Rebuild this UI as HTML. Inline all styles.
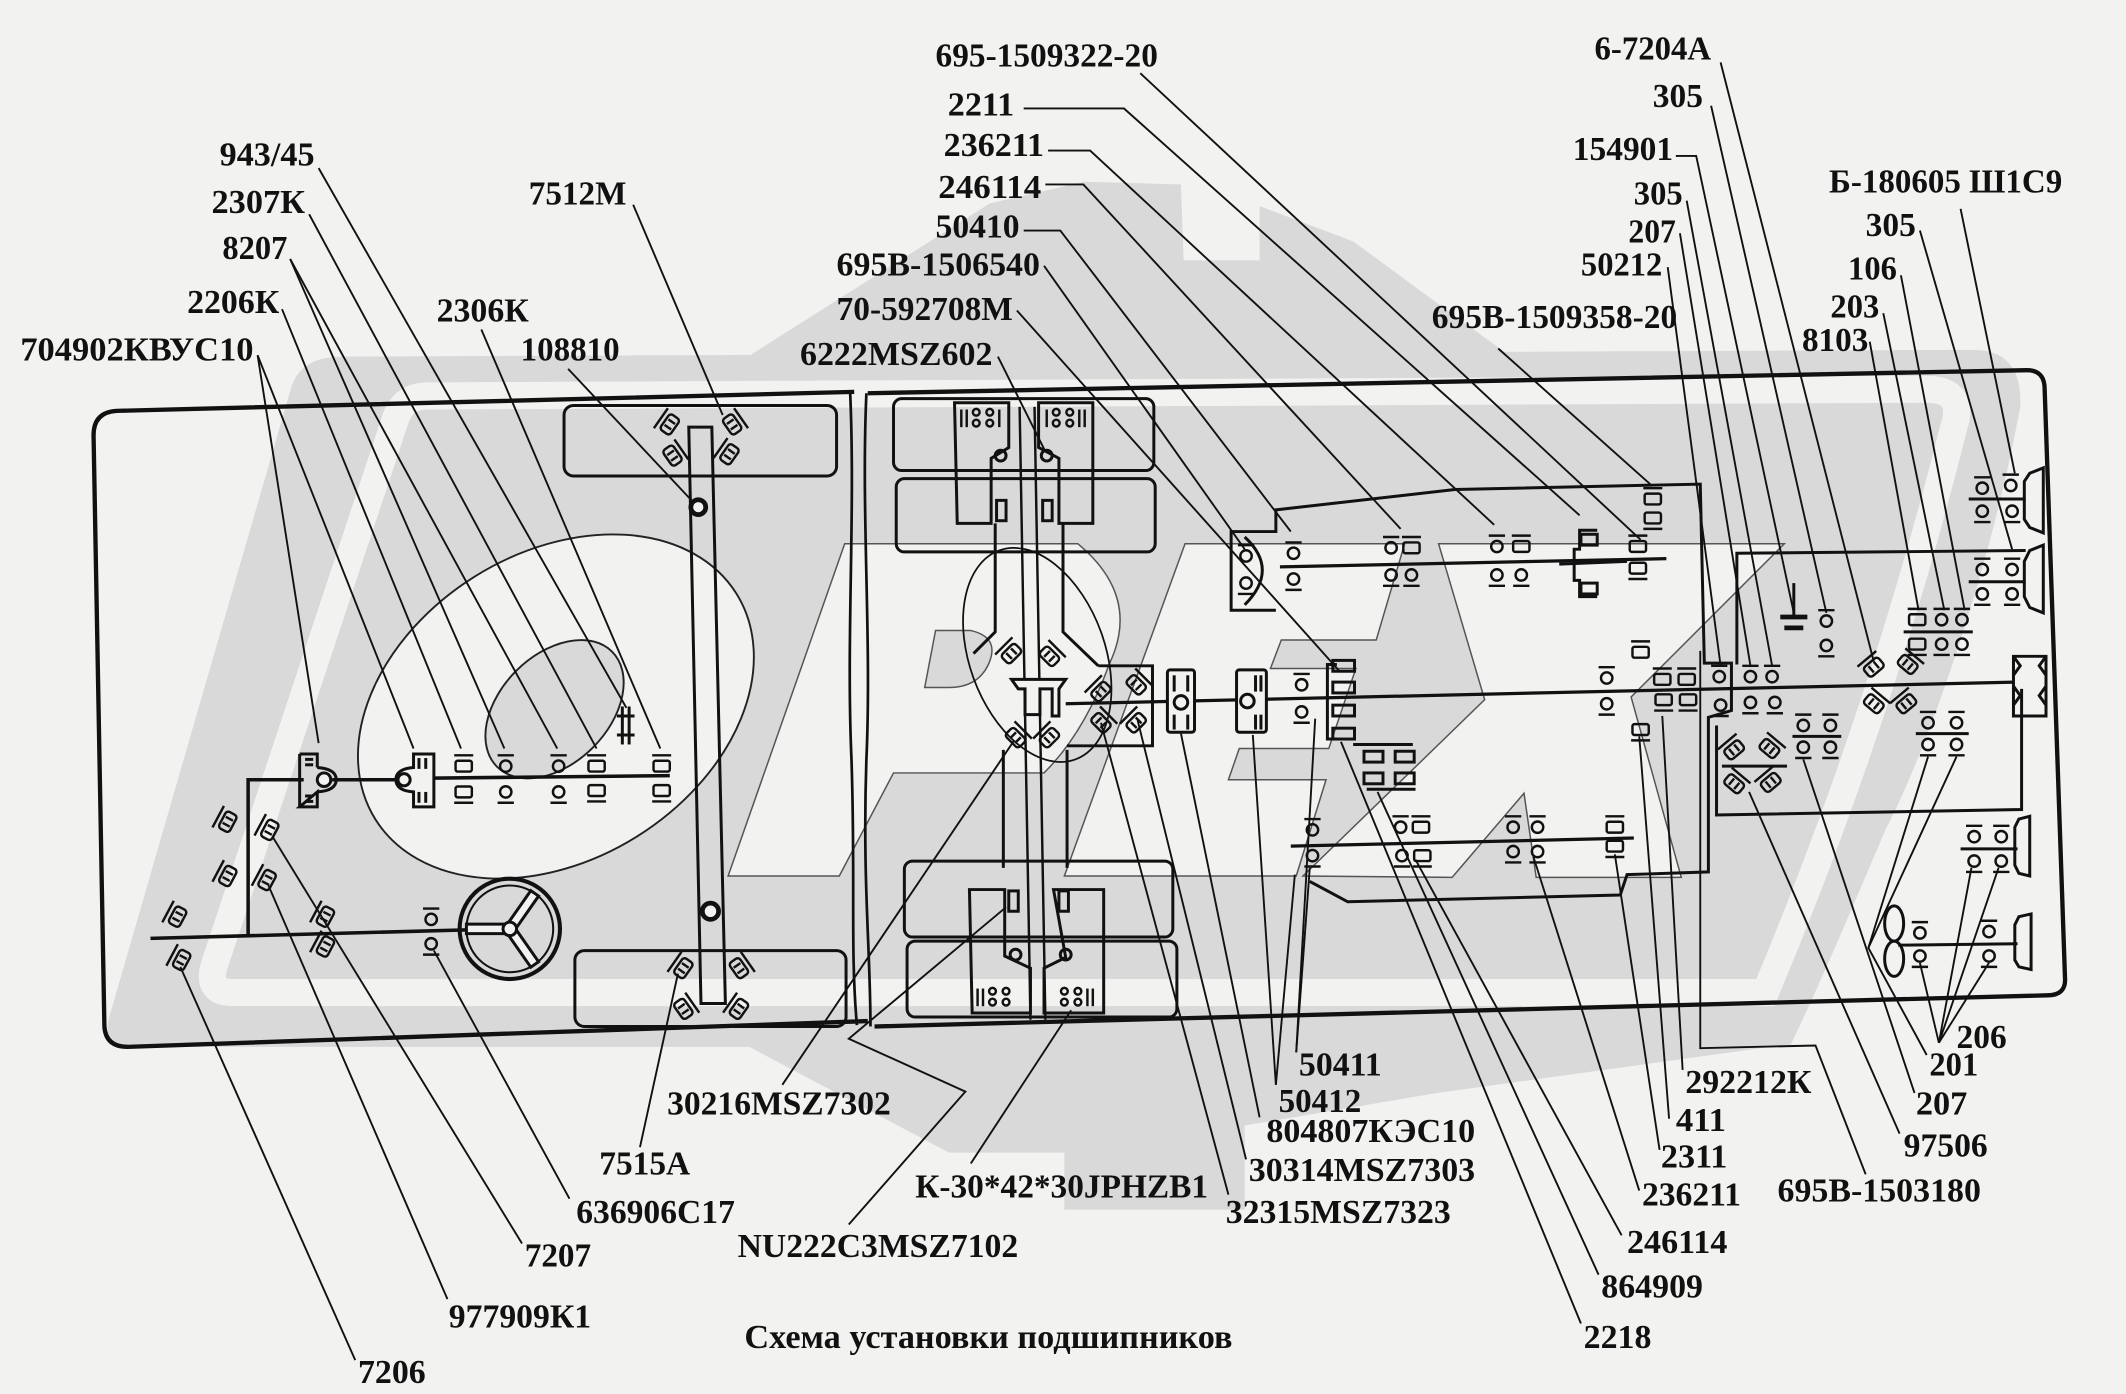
<!DOCTYPE html>
<html><head><meta charset="utf-8">
<style>
html,body{margin:0;padding:0;background:#f2f2f0;}
svg{display:block;}
text{font-family:"Liberation Serif","DejaVu Serif",serif;font-weight:bold;fill:#111;font-size:25px;}
</style></head><body>
<svg width="2126" height="1394" viewBox="0 0 1568 1028" preserveAspectRatio="none" xmlns="http://www.w3.org/2000/svg">
<defs>
<g id="cb"><circle cx="0" cy="0" r="4.2"/><line x1="-6" y1="-8" x2="6" y2="-8"/></g>
<g id="cbd"><circle cx="0" cy="0" r="4.2"/><line x1="-6" y1="8" x2="6" y2="8"/></g>
<g id="rb"><rect x="-6" y="-4" width="12" height="8" rx="1.5"/><line x1="-7" y1="-8" x2="7" y2="-8"/></g>
<g id="rbd"><rect x="-6" y="-4" width="12" height="8" rx="1.5"/><line x1="-7" y1="8" x2="7" y2="8"/></g>
<g id="tb"><rect x="-7" y="-4.5" width="14" height="9" rx="2.5"/><line x1="-9" y1="-8" x2="9" y2="-8"/><line x1="-2.5" y1="-3" x2="-2.5" y2="3"/><line x1="2.5" y1="-3" x2="2.5" y2="3"/></g>
</defs>

<rect width="1568" height="1028" fill="#f2f2f0"/>

<!-- watermark -->
<g fill="#d9d9d9">
<path d="M250,263 L1455,258 Q1492,258 1490,300 C1466,430 1418,560 1391,611 C1370,660 1345,720 1320,772 L95,772 Q76,772 80,752 L215,285 Q222,264 250,263 Z"/>
<polygon points="550,264 730,150 800,134 871,136 873,192 929,192 929,152 998,178 1062,225 1113,262"/>
<polygon points="545,768 700,850 785,850 785,892 918,892 918,830 1060,806 1320,770"/>
</g>
<path fill="none" stroke="#f2f2f0" stroke-width="20" d="M315,292 L1420,287 Q1450,287 1441,315 C1412,430 1370,570 1302,732 L172,732 Q152,732 158,712 L292,308 Q298,292 315,292 Z"/>
<g fill="#f2f2f0" stroke="#555" stroke-width="1.1">
<path d="M623,401 L795,401 Q842,440 818,490 Q800,540 770,570 L659,570 L619,646 L537,646 Z"/>
<polygon points="874,401 1036,401 1015,472 945,472 937,493 1000,493 980,552 914,552 906,575 978,575 956,646 785,646"/>
<polygon points="1061,401 1316,401 1203,514 1240,647 1133,647 1124,585 1071,647 961,646 1095,516"/>
</g>
<path fill="#d9d9d9" stroke="#555" stroke-width="1.1" d="M690,465 L716,465 Q738,470 729,490 Q721,507 700,507 L682,507 Z"/>

<!-- big ellipses -->
<ellipse cx="410" cy="521" rx="157" ry="113" transform="rotate(-32 410 521)" fill="#f2f2f0" stroke="#222" stroke-width="1.4"/>
<ellipse cx="409" cy="523" rx="60" ry="40" transform="rotate(-45 409 523)" fill="#d9d9d9" stroke="#222" stroke-width="1.4"/>

<!-- frame -->
<g fill="none" stroke="#111" stroke-width="3.2" stroke-linejoin="round">
<path d="M630,289 L86,303 Q69,304 69,321 L77,757 Q78,772 94,772 L640,753"/>
<path d="M640,290 L1495,273 Q1508,273 1508,287 L1523,721 Q1524,734 1510,734 L645,757"/>
</g>
<g fill="none" stroke="#111" stroke-width="2">
<path d="M627,289 C631,380 624,470 628,560 C631,650 627,700 632,756"/>
<path d="M639,290 C635,380 643,470 639,560 C636,650 642,700 642,757"/>
</g>

<!-- left box drawing -->
<g fill="none" stroke="#111" stroke-width="2.2">
<rect x="416" y="299" width="201" height="52" rx="7"/>
<rect x="424" y="701" width="200" height="56" rx="7"/>
<polygon points="508,315 525,315 535,740 517,740"/>
<circle cx="515" cy="374" r="5.5" stroke-width="3.5" fill="#f2f2f0"/>
<circle cx="524" cy="672" r="6" stroke-width="3.5" fill="#f2f2f0"/>
<path d="M183,690 V575 H224" stroke-width="2.6"/>
<line x1="245" y1="575" x2="292" y2="575" stroke-width="2.6"/>
<line x1="302" y1="574" x2="494" y2="572" stroke-width="2.6"/>
<line x1="111" y1="692" x2="372" y2="685" stroke-width="2.6"/>
<path d="M221,556 H234 V566 M234,584 V595 H221 Z M221,556 V595"/>
<line x1="225" y1="560" x2="231" y2="560"/><line x1="225" y1="564" x2="231" y2="564"/>
<line x1="225" y1="587" x2="231" y2="587"/><line x1="225" y1="591" x2="231" y2="591"/>
<circle cx="239" cy="575" r="5" fill="#f2f2f0"/>
<path d="M234,566 Q248,567 248,575 Q248,583 234,584"/>
<path d="M305,556 H320 V595 H305 V584 Q292,583 292,575 Q292,567 305,566 Z" fill="#f2f2f0"/>
<circle cx="298" cy="575" r="4.5"/>
<line x1="309" y1="559" x2="309" y2="567"/><line x1="314" y1="559" x2="314" y2="567"/>
<line x1="309" y1="584" x2="309" y2="592"/><line x1="314" y1="584" x2="314" y2="592"/>
<line x1="459" y1="521" x2="459" y2="549"/><line x1="464" y1="521" x2="464" y2="549"/>
<line x1="455" y1="528" x2="468" y2="528"/><line x1="455" y1="542" x2="468" y2="542"/>
<circle cx="376" cy="685" r="37" stroke-width="3"/>
<circle cx="376" cy="685" r="32" stroke-width="1.5"/>
<g transform="translate(376,685)" fill="#f2f2f0">
<rect x="3" y="-3.5" width="29" height="7" transform="rotate(-55)"/>
<rect x="3" y="-3.5" width="29" height="7" transform="rotate(55)"/>
<rect x="3" y="-3.5" width="29" height="7" transform="rotate(180)"/>
<circle r="5"/>
</g>
</g>
<g fill="none" stroke="#111" stroke-width="1.8">
<use href="#tb" transform="translate(494,313) rotate(-55)"/>
<use href="#tb" transform="translate(540,313) rotate(55)"/>
<use href="#tb" transform="translate(496,336) rotate(55)"/>
<use href="#tb" transform="translate(538,335) rotate(-55)"/>
<use href="#tb" transform="translate(504,714) rotate(-55)"/>
<use href="#tb" transform="translate(545,714) rotate(55)"/>
<use href="#tb" transform="translate(504,744) rotate(55)"/>
<use href="#tb" transform="translate(545,744) rotate(-55)"/>
<use href="#rb" transform="translate(342,565)"/><use href="#rbd" transform="translate(342,584)"/>
<use href="#cb" transform="translate(373,565)"/><use href="#cbd" transform="translate(373,584)"/>
<use href="#cb" transform="translate(412,565)"/><use href="#cbd" transform="translate(412,584)"/>
<use href="#rb" transform="translate(440,565)"/><use href="#rbd" transform="translate(440,583)"/>
<use href="#rb" transform="translate(488,565)"/><use href="#rbd" transform="translate(488,583)"/>
<use href="#tb" transform="translate(168,606) rotate(-62)"/>
<use href="#tb" transform="translate(199,612) rotate(-62)"/>
<use href="#tb" transform="translate(168,646) rotate(-62)"/>
<use href="#tb" transform="translate(197,649) rotate(-62)"/>
<use href="#tb" transform="translate(131,676) rotate(-62)"/>
<use href="#tb" transform="translate(134,708) rotate(-62)"/>
<use href="#tb" transform="translate(240,676) rotate(-62)"/>
<use href="#tb" transform="translate(240,698) rotate(-62)"/>
<use href="#cb" transform="translate(318,678)"/><use href="#cbd" transform="translate(318,696)"/>
</g>

<!-- right box drawing -->
<g fill="none" stroke="#111" stroke-width="2.2">
<rect x="659" y="294" width="192" height="53" rx="6"/>
<rect x="661" y="353" width="191" height="54" rx="6"/>
<rect x="667" y="635" width="198" height="56" rx="6"/>
<rect x="669" y="694" width="199" height="56" rx="6"/>
<path d="M704,297 H744 V330 L731,338 V386 H706 Z"/>
<path d="M766,297 H806 V386 H781 V338 L766,330 Z"/>
<circle cx="738" cy="336" r="4"/><circle cx="772" cy="336" r="4"/>
<rect x="735" y="369" width="7" height="15"/><rect x="769" y="369" width="7" height="15"/>
<path d="M715,656 H741 V705 L760,714 V747 H717 Z"/>
<path d="M777,656 H814 V747 H770 V714 L786,706 Z"/>
<circle cx="749" cy="704" r="4"/><circle cx="786" cy="704" r="4"/>
<rect x="744" y="657" width="7" height="15"/><rect x="781" y="657" width="7" height="15"/>
<path d="M734,386 V466 L718,482"/>
<path d="M784,386 V466 L810,491"/>
<path d="M740,553 V640 M787,553 V640"/>
<line x1="752" y1="300" x2="760" y2="752" stroke-width="1.8"/>
<line x1="763" y1="300" x2="771" y2="752" stroke-width="1.8"/>
<ellipse cx="765" cy="483" rx="50" ry="82" transform="rotate(-20 765 483)" stroke-width="1.3"/>
<path d="M746,501 H786 L781,508 V528 H776 V508 H767 V527 H756 V508 L751,508 Z" fill="#f2f2f0"/>
<path d="M810,491 H850 V550 H787"/>
<line x1="786" y1="519" x2="1486" y2="503" stroke-width="2.4"/>
<rect x="861" y="494" width="20" height="46" rx="2" fill="#f2f2f0"/>
<circle cx="871" cy="518" r="5" fill="#f2f2f0"/>
<line x1="866" y1="498" x2="866" y2="510"/><line x1="876" y1="498" x2="876" y2="510"/>
<line x1="866" y1="527" x2="866" y2="538"/><line x1="876" y1="527" x2="876" y2="538"/>
<rect x="912" y="494" width="22" height="46" rx="2" fill="#f2f2f0"/>
<circle cx="920" cy="517" r="5" fill="#f2f2f0"/>
<line x1="926" y1="498" x2="926" y2="510"/><line x1="930" y1="498" x2="930" y2="510"/>
<line x1="926" y1="527" x2="926" y2="538"/><line x1="930" y1="527" x2="930" y2="538"/>
<path d="M986,490 H979 V545 H986"/>
<rect x="983" y="487" width="16" height="8"/><rect x="983" y="503" width="16" height="8"/>
<rect x="983" y="520" width="16" height="8"/><rect x="983" y="537" width="16" height="8"/>
<line x1="998" y1="549" x2="1042" y2="549"/><line x1="1008" y1="582" x2="1044" y2="582"/>
<rect x="1006" y="554" width="14" height="8"/><rect x="1029" y="554" width="14" height="8"/>
<rect x="1006" y="570" width="14" height="8"/><rect x="1029" y="570" width="14" height="8"/>
<path d="M941,450 H908 V392 H941 V376 L1073,361 L1254,357 L1257,489 H1277 V524 L1260,529 V643 L1200,645 L1195,660 L994,665 L966,650"/>
<path d="M918,396 Q944,420 918,446"/>
<line x1="944" y1="418" x2="1229" y2="412" stroke-width="2.4"/>
<path d="M1178,391 H1165 V405 H1161 V428 H1165 V440 H1178"/>
<rect x="1166" y="394" width="12" height="8"/><rect x="1166" y="430" width="12" height="8"/>
<line x1="1150" y1="416" x2="1200" y2="414"/>
<line x1="952" y1="624" x2="1205" y2="618" stroke-width="2.4"/>
<path d="M1281,490 V408 L1494,406"/>
<path d="M1266,535 V601 L1491,597 V508"/>
<path d="M1497,349 L1507,345 V393 L1497,389 L1493,383 V355 Z"/>
<path d="M1497,406 L1507,402 V452 L1497,448 L1493,440 V414 Z"/>
<path d="M1485,484 H1509 V528 H1485 Z M1485,484 L1490,491 L1485,498 M1509,484 L1504,491 L1509,498 M1485,506 L1490,513 L1485,520 M1509,506 L1504,513 L1509,520"/>
<path d="M1489,604 L1497,602 V646 L1489,644 L1486,638 V610 Z"/>
<path d="M1489,676 L1498,674 V715 L1489,713 L1486,708 V682 Z"/>
<ellipse cx="1397" cy="681" rx="7" ry="13"/><ellipse cx="1397" cy="707" rx="7" ry="13"/>
<line x1="1400" y1="697" x2="1488" y2="696"/>
<line x1="1446" y1="626" x2="1488" y2="626"/>
<line x1="1270" y1="565" x2="1318" y2="565"/>
<line x1="1322" y1="543" x2="1358" y2="543"/>
<line x1="1413" y1="541" x2="1452" y2="541"/>
<line x1="1313" y1="455" x2="1333" y2="455" stroke-width="3.5"/>
<line x1="1316" y1="463" x2="1330" y2="463" stroke-width="3.5"/>
<line x1="1323" y1="430" x2="1323" y2="455"/>
<line x1="1404" y1="466" x2="1455" y2="466"/>
<line x1="1452" y1="368" x2="1494" y2="368"/>
<line x1="1452" y1="429" x2="1494" y2="429"/>
</g>
<g fill="none" stroke="#111" stroke-width="1.8">
<line x1="709" y1="302" x2="709" y2="315"/><line x1="713" y1="302" x2="713" y2="315"/>
<circle cx="720" cy="304" r="2.5"/><circle cx="720" cy="312" r="2.5"/>
<circle cx="730" cy="304" r="2.5"/><circle cx="730" cy="312" r="2.5"/><line x1="737" y1="302" x2="737" y2="315"/>
<line x1="772" y1="302" x2="772" y2="315"/>
<circle cx="779" cy="304" r="2.5"/><circle cx="779" cy="312" r="2.5"/>
<circle cx="789" cy="304" r="2.5"/><circle cx="789" cy="312" r="2.5"/>
<line x1="796" y1="302" x2="796" y2="315"/><line x1="800" y1="302" x2="800" y2="315"/>
<line x1="721" y1="729" x2="721" y2="742"/><line x1="725" y1="729" x2="725" y2="742"/>
<circle cx="732" cy="731" r="2.5"/><circle cx="732" cy="739" r="2.5"/>
<circle cx="742" cy="731" r="2.5"/><circle cx="742" cy="739" r="2.5"/>
<circle cx="785" cy="731" r="2.5"/><circle cx="785" cy="739" r="2.5"/>
<circle cx="795" cy="731" r="2.5"/><circle cx="795" cy="739" r="2.5"/>
<line x1="802" y1="729" x2="802" y2="742"/><line x1="806" y1="729" x2="806" y2="742"/>
<use href="#tb" transform="translate(746,482) rotate(-45)"/>
<use href="#tb" transform="translate(774,484) rotate(45)"/>
<use href="#tb" transform="translate(749,544) rotate(45)"/>
<use href="#tb" transform="translate(774,544) rotate(-45)"/>
<use href="#tb" transform="translate(812,510) rotate(-45)"/>
<use href="#tb" transform="translate(838,505) rotate(45)"/>
<use href="#tb" transform="translate(812,533) rotate(45)"/>
<use href="#tb" transform="translate(838,533) rotate(-45)"/>
<use href="#cb" transform="translate(960,505)"/><use href="#cbd" transform="translate(960,525)"/>
<use href="#cb" transform="translate(919,410)"/><use href="#cbd" transform="translate(919,430)"/>
<use href="#cb" transform="translate(954,408)"/><use href="#cbd" transform="translate(954,427)"/>
<use href="#cb" transform="translate(1026,404)"/><use href="#rb" transform="translate(1041,404)"/>
<use href="#cbd" transform="translate(1026,424)"/><use href="#cbd" transform="translate(1041,424)"/>
<use href="#cb" transform="translate(1104,403)"/><use href="#rb" transform="translate(1122,403)"/>
<use href="#cbd" transform="translate(1104,424)"/><use href="#cbd" transform="translate(1122,424)"/>
<use href="#rb" transform="translate(1208,403)"/><use href="#rbd" transform="translate(1208,419)"/>
<use href="#rb" transform="translate(1219,368)"/><use href="#rbd" transform="translate(1219,382)"/>
<use href="#cb" transform="translate(968,612)"/><use href="#cbd" transform="translate(968,631)"/>
<use href="#cb" transform="translate(1033,610)"/><use href="#rb" transform="translate(1048,610)"/>
<use href="#cbd" transform="translate(1034,631)"/><use href="#rbd" transform="translate(1049,631)"/>
<use href="#cb" transform="translate(1116,610)"/><use href="#cb" transform="translate(1134,610)"/>
<use href="#cbd" transform="translate(1116,628)"/><use href="#cbd" transform="translate(1134,628)"/>
<use href="#rb" transform="translate(1191,610)"/><use href="#rbd" transform="translate(1191,624)"/>
<use href="#cb" transform="translate(1185,500)"/><use href="#cbd" transform="translate(1185,519)"/>
<use href="#rb" transform="translate(1226,501)"/><use href="#rbd" transform="translate(1227,516)"/>
<use href="#rb" transform="translate(1244,501)"/><use href="#rbd" transform="translate(1245,516)"/>
<use href="#rb" transform="translate(1210,481)"/><use href="#rbd" transform="translate(1210,538)"/>
<use href="#cb" transform="translate(1268,499)"/><use href="#cbd" transform="translate(1269,520)"/>
<use href="#cb" transform="translate(1291,499)"/><use href="#cbd" transform="translate(1291,518)"/>
<use href="#cb" transform="translate(1307,499)"/><use href="#cbd" transform="translate(1309,518)"/>
<use href="#cb" transform="translate(1347,458)"/><use href="#cbd" transform="translate(1347,476)"/>
<use href="#tb" transform="translate(1382,492) rotate(-40)"/>
<use href="#tb" transform="translate(1407,490) rotate(40)"/>
<use href="#tb" transform="translate(1382,519) rotate(40)"/>
<use href="#tb" transform="translate(1406,519) rotate(-40)"/>
<use href="#rb" transform="translate(1414,457)"/><use href="#cb" transform="translate(1432,457)"/><use href="#cb" transform="translate(1447,457)"/>
<use href="#rbd" transform="translate(1414,475)"/><use href="#cbd" transform="translate(1432,475)"/><use href="#cbd" transform="translate(1447,475)"/>
<use href="#cb" transform="translate(1462,360)"/><use href="#cb" transform="translate(1483,358)"/>
<use href="#cbd" transform="translate(1462,377)"/><use href="#cbd" transform="translate(1484,377)"/>
<use href="#cb" transform="translate(1462,420)"/><use href="#cb" transform="translate(1484,420)"/>
<use href="#cbd" transform="translate(1462,438)"/><use href="#cbd" transform="translate(1484,438)"/>
<use href="#tb" transform="translate(1279,553) rotate(-40)"/>
<use href="#tb" transform="translate(1305,552) rotate(40)"/>
<use href="#tb" transform="translate(1279,578) rotate(40)"/>
<use href="#tb" transform="translate(1306,577) rotate(-40)"/>
<use href="#cb" transform="translate(1330,535)"/><use href="#cb" transform="translate(1350,535)"/>
<use href="#cbd" transform="translate(1330,551)"/><use href="#cbd" transform="translate(1350,551)"/>
<use href="#cb" transform="translate(1422,533)"/><use href="#cb" transform="translate(1443,533)"/>
<use href="#cbd" transform="translate(1422,549)"/><use href="#cbd" transform="translate(1443,549)"/>
<use href="#cb" transform="translate(1456,617)"/><use href="#cb" transform="translate(1476,617)"/>
<use href="#cbd" transform="translate(1456,635)"/><use href="#cbd" transform="translate(1476,635)"/>
<use href="#cb" transform="translate(1416,688)"/><use href="#cbd" transform="translate(1416,705)"/>
<use href="#cb" transform="translate(1467,687)"/><use href="#cbd" transform="translate(1467,705)"/>
</g>

<!-- leader lines -->
<g fill="none" stroke="#111" stroke-width="1.4">
<line x1="235" y1="124" x2="462" y2="522"/>
<line x1="228" y1="158" x2="440" y2="552"/>
<line x1="214" y1="191" x2="372" y2="552"/>
<line x1="214" y1="191" x2="411" y2="552"/>
<line x1="208" y1="228" x2="340" y2="552"/>
<line x1="190" y1="262" x2="235" y2="548"/>
<line x1="190" y1="262" x2="305" y2="552"/>
<line x1="355" y1="243" x2="487" y2="552"/>
<line x1="467" y1="151" x2="533" y2="306"/>
<line x1="419" y1="272" x2="511" y2="370"/>
<line x1="262" y1="1003" x2="133" y2="713"/>
<line x1="330" y1="958" x2="198" y2="653"/>
<line x1="385" y1="917" x2="201" y2="617"/>
<line x1="420" y1="884" x2="320" y2="701"/>
<line x1="472" y1="846" x2="500" y2="718"/>
<line x1="577" y1="800" x2="748" y2="546"/>
<polyline points="626,903 712,805 626,766 742,669"/>
<line x1="716" y1="858" x2="790" y2="745"/>
<line x1="956" y1="776" x2="966" y2="640"/>
<line x1="956" y1="776" x2="970" y2="530"/>
<line x1="941" y1="800" x2="955" y2="645"/>
<line x1="941" y1="800" x2="924" y2="542"/>
<line x1="929" y1="824" x2="871" y2="541"/>
<line x1="919" y1="855" x2="839" y2="531"/>
<line x1="906" y1="881" x2="812" y2="533"/>
<line x1="1166" y1="976" x2="989" y2="547"/>
<line x1="1179" y1="940" x2="1016" y2="584"/>
<line x1="1196" y1="911" x2="1044" y2="634"/>
<line x1="1209" y1="878" x2="1131" y2="632"/>
<line x1="1224" y1="848" x2="1191" y2="630"/>
<line x1="1231" y1="825" x2="1209" y2="543"/>
<line x1="1241" y1="789" x2="1226" y2="528"/>
<polyline points="1254,480 1254,773 1339,771 1376,866"/>
<line x1="1401" y1="836" x2="1290" y2="584"/>
<line x1="1412" y1="806" x2="1330" y2="560"/>
<polyline points="1422,558 1378,699 1421,778"/>
<line x1="1443" y1="558" x2="1378" y2="699"/>
<line x1="1430" y1="769" x2="1416" y2="710"/>
<line x1="1430" y1="769" x2="1454" y2="640"/>
<line x1="1430" y1="769" x2="1474" y2="640"/>
<line x1="1430" y1="769" x2="1467" y2="710"/>
<line x1="841" y1="54" x2="1210" y2="398"/>
<polyline points="755,80 829,80 1165,380"/>
<polyline points="773,111 804,111 1102,387"/>
<polyline points="771,136 799,136 1033,390"/>
<polyline points="755,170 782,170 952,392"/>
<line x1="770" y1="196" x2="918" y2="405"/>
<line x1="750" y1="229" x2="988" y2="495"/>
<line x1="736" y1="263" x2="771" y2="333"/>
<line x1="1269" y1="46" x2="1382" y2="488"/>
<line x1="1262" y1="78" x2="1347" y2="452"/>
<polyline points="1236,115 1251,115 1323,452"/>
<line x1="1244" y1="148" x2="1307" y2="491"/>
<line x1="1239" y1="172" x2="1291" y2="491"/>
<line x1="1230" y1="197" x2="1269" y2="491"/>
<line x1="1105" y1="257" x2="1217" y2="357"/>
<line x1="1446" y1="154" x2="1486" y2="349"/>
<line x1="1416" y1="170" x2="1484" y2="405"/>
<line x1="1402" y1="203" x2="1449" y2="450"/>
<line x1="1389" y1="231" x2="1434" y2="450"/>
<line x1="1379" y1="252" x2="1415" y2="450"/>
</g>

<!-- labels -->
<g>
<text x="690" y="49" textLength="164" lengthAdjust="spacingAndGlyphs">695-1509322-20</text>
<text x="699" y="85" textLength="49" lengthAdjust="spacingAndGlyphs">2211</text>
<text x="696" y="115" textLength="74" lengthAdjust="spacingAndGlyphs">236211</text>
<text x="692" y="146" textLength="76" lengthAdjust="spacingAndGlyphs">246114</text>
<text x="690" y="175" textLength="62" lengthAdjust="spacingAndGlyphs">50410</text>
<text x="617" y="203" textLength="150" lengthAdjust="spacingAndGlyphs">695В-1506540</text>
<text x="617" y="236" textLength="130" lengthAdjust="spacingAndGlyphs">70-592708М</text>
<text x="590" y="269" textLength="142" lengthAdjust="spacingAndGlyphs">6222MSZ602</text>
<text x="162" y="122" textLength="70" lengthAdjust="spacingAndGlyphs">943/45</text>
<text x="156" y="157" textLength="69" lengthAdjust="spacingAndGlyphs">2307К</text>
<text x="164" y="191" textLength="48" lengthAdjust="spacingAndGlyphs">8207</text>
<text x="390" y="151" textLength="72" lengthAdjust="spacingAndGlyphs">7512М</text>
<text x="138" y="231" textLength="68" lengthAdjust="spacingAndGlyphs">2206К</text>
<text x="322" y="237" textLength="68" lengthAdjust="spacingAndGlyphs">2306К</text>
<text x="15" y="266" textLength="172" lengthAdjust="spacingAndGlyphs">704902КВУС10</text>
<text x="384" y="266" textLength="73" lengthAdjust="spacingAndGlyphs">108810</text>
<text x="1176" y="44" textLength="86" lengthAdjust="spacingAndGlyphs">6-7204А</text>
<text x="1219" y="79" textLength="37" lengthAdjust="spacingAndGlyphs">305</text>
<text x="1160" y="118" textLength="74" lengthAdjust="spacingAndGlyphs">154901</text>
<text x="1205" y="151" textLength="36" lengthAdjust="spacingAndGlyphs">305</text>
<text x="1201" y="179" textLength="35" lengthAdjust="spacingAndGlyphs">207</text>
<text x="1166" y="203" textLength="60" lengthAdjust="spacingAndGlyphs">50212</text>
<text x="1349" y="142" textLength="172" lengthAdjust="spacingAndGlyphs">Б-180605 Ш1С9</text>
<text x="1376" y="174" textLength="37" lengthAdjust="spacingAndGlyphs">305</text>
<text x="1363" y="206" textLength="36" lengthAdjust="spacingAndGlyphs">106</text>
<text x="1350" y="234" textLength="36" lengthAdjust="spacingAndGlyphs">203</text>
<text x="1329" y="259" textLength="49" lengthAdjust="spacingAndGlyphs">8103</text>
<text x="1056" y="242" textLength="181" lengthAdjust="spacingAndGlyphs">695В-1509358-20</text>
<text x="958" y="793" textLength="61" lengthAdjust="spacingAndGlyphs">50411</text>
<text x="943" y="820" textLength="61" lengthAdjust="spacingAndGlyphs">50412</text>
<text x="934" y="842" textLength="154" lengthAdjust="spacingAndGlyphs">804807КЭС10</text>
<text x="921" y="871" textLength="167" lengthAdjust="spacingAndGlyphs">30314MSZ7303</text>
<text x="904" y="902" textLength="166" lengthAdjust="spacingAndGlyphs">32315MSZ7323</text>
<text x="675" y="883" textLength="216" lengthAdjust="spacingAndGlyphs">К-30*42*30JPHZB1</text>
<text x="544" y="927" textLength="207" lengthAdjust="spacingAndGlyphs">NU222C3MSZ7102</text>
<text x="492" y="822" textLength="165" lengthAdjust="spacingAndGlyphs">30216MSZ7302</text>
<text x="442" y="866" textLength="67" lengthAdjust="spacingAndGlyphs">7515А</text>
<text x="425" y="902" textLength="117" lengthAdjust="spacingAndGlyphs">636906С17</text>
<text x="387" y="934" textLength="49" lengthAdjust="spacingAndGlyphs">7207</text>
<text x="331" y="979" textLength="105" lengthAdjust="spacingAndGlyphs">977909К1</text>
<text x="264" y="1020" textLength="50" lengthAdjust="spacingAndGlyphs">7206</text>
<text x="1243" y="806" textLength="93" lengthAdjust="spacingAndGlyphs">292212К</text>
<text x="1236" y="834" textLength="37" lengthAdjust="spacingAndGlyphs">411</text>
<text x="1225" y="861" textLength="49" lengthAdjust="spacingAndGlyphs">2311</text>
<text x="1211" y="889" textLength="73" lengthAdjust="spacingAndGlyphs">236211</text>
<text x="1200" y="924" textLength="74" lengthAdjust="spacingAndGlyphs">246114</text>
<text x="1181" y="957" textLength="75" lengthAdjust="spacingAndGlyphs">864909</text>
<text x="1168" y="994" textLength="50" lengthAdjust="spacingAndGlyphs">2218</text>
<text x="1311" y="886" textLength="150" lengthAdjust="spacingAndGlyphs">695В-1503180</text>
<text x="1404" y="853" textLength="62" lengthAdjust="spacingAndGlyphs">97506</text>
<text x="1413" y="822" textLength="38" lengthAdjust="spacingAndGlyphs">207</text>
<text x="1423" y="793" textLength="36" lengthAdjust="spacingAndGlyphs">201</text>
<text x="1443" y="773" textLength="37" lengthAdjust="spacingAndGlyphs">206</text>
<text x="549" y="994" textLength="360" lengthAdjust="spacingAndGlyphs">Схема установки подшипников</text>
</g>
</svg>
</body></html>
